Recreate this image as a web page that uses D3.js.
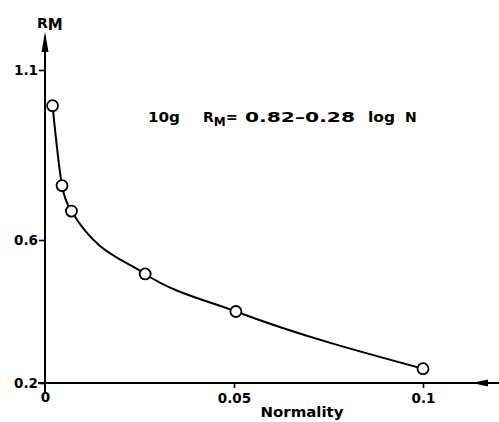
<!DOCTYPE html>
<html>
<head>
<meta charset="utf-8">
<script src="https://cdn.jsdelivr.net/npm/d3@7"></script>
<style>
  body { margin: 0; background: #fff; }
  svg { display: block; font-family: "DejaVu Sans", sans-serif; font-weight: bold; }
</style>
</head>
<body>
<svg></svg>
<script>
const size = {w: 499, h: 422};

// measured points
const normality = [0.002, 0.0045, 0.007, 0.0265, 0.0505, 0.1];
const rm = [0.995, 0.76, 0.685, 0.505, 0.40, 0.24];

const xTicks = [0, 0.05, 0.1];
const xTickLabels = ['0', '0.05', '0.1'];
const yTicks = [0.2, 0.6, 1.1];
const yTickLabels = ['0.2', '0.6', '1.1'];

const svg = d3.select('svg')
    .attr('width', size.w)
    .attr('height', size.h);

// scales (y is slightly uneven in the scan, so piecewise)
const x = d3.scaleLinear().domain([0, 0.1]).range([45, 423]);
const y = d3.scaleLinear().domain([0.2, 0.6, 1.1]).range([383, 240, 70]);

const x0 = x(0), y0 = y(0.2);

// axis lines
svg.append('line')
    .attr('x1', x0).attr('x2', x0)
    .attr('y1', 36).attr('y2', 392)
    .attr('stroke', '#000').attr('stroke-width', 2);
svg.append('line')
    .attr('x1', 38).attr('x2', 499)
    .attr('y1', y0).attr('y2', y0)
    .attr('stroke', '#000').attr('stroke-width', 2.2);

// arrow heads
svg.append('path')
    .attr('d', `M${x0},32 L${x0 - 3.5},52 L${x0 + 3.5},52 Z`)
    .attr('fill', '#000');
svg.append('path')
    .attr('d', `M472,${y0} L488,${y0 - 3.5} L488,${y0 + 3.5} Z`)
    .attr('fill', '#000');

// y ticks
const yAxis = d3.axisLeft(y)
    .tickValues(yTicks)
    .tickFormat((d, i) => yTickLabels[i])
    .tickSize(6)
    .tickPadding(1);
const yG = svg.append('g')
    .attr('transform', `translate(${x0},0)`)
    .call(yAxis);
yG.select('.domain').remove();

// x ticks
const xAxis = d3.axisBottom(x)
    .tickValues(xTicks)
    .tickFormat((d, i) => xTickLabels[i])
    .tickSize(5)
    .tickPadding(5);
const xG = svg.append('g')
    .attr('transform', `translate(0,${y0})`)
    .call(xAxis);
xG.select('.domain').remove();

svg.selectAll('.tick line').attr('stroke', '#000').attr('stroke-width', 1.6);
svg.selectAll('.tick text')
    .attr('fill', '#000')
    .style('font-family', '"DejaVu Sans", sans-serif')
    .style('font-weight', 'bold')
    .style('font-size', '13.5px');
xG.selectAll('.tick').filter(d => d === 0).select('line').remove();
xG.selectAll('.tick').filter(d => d === 0).select('text').attr('y', 9);

// curve
const pts = normality.map((n, i) => [n, rm[i]]);
const line = d3.line()
    .x(d => x(d[0]))
    .y(d => y(d[1]))
    .curve(d3.curveMonotoneX);
svg.append('path')
    .datum(pts)
    .attr('d', line)
    .attr('fill', 'none')
    .attr('stroke', '#000')
    .attr('stroke-width', 2);

svg.selectAll('circle')
    .data(pts)
    .enter()
    .append('circle')
    .attr('cx', d => x(d[0]))
    .attr('cy', d => y(d[1]))
    .attr('r', 5.5)
    .attr('fill', '#fff')
    .attr('stroke', '#000')
    .attr('stroke-width', 1.8);

// axis titles
const rmLabel = svg.append('text').attr('x', 37).attr('y', 28).style('font-size', '14px');
rmLabel.append('tspan').text('R');
rmLabel.append('tspan').attr('dy', 2).style('font-size', '15px').text('M');

svg.append('text')
    .attr('x', 302).attr('y', 417)
    .attr('text-anchor', 'middle')
    .attr('textLength', 83)
    .attr('lengthAdjust', 'spacingAndGlyphs')
    .style('font-size', '14px')
    .text('Normality');

// equation
const eq = svg.append('g').style('font-size', '14px');
eq.append('text').attr('x', 148).attr('y', 122)
    .attr('textLength', 32).attr('lengthAdjust', 'spacingAndGlyphs').text('10g');
const r = eq.append('text').attr('x', 203).attr('y', 122);
r.append('tspan').text('R');
r.append('tspan').attr('dy', 4).style('font-size', '12px').text('M');
eq.append('text').attr('x', 226).attr('y', 122).text('=');
eq.append('text').attr('x', 245).attr('y', 122)
    .attr('textLength', 110).attr('lengthAdjust', 'spacingAndGlyphs').text('0.82–0.28');
eq.append('text').attr('x', 368).attr('y', 122)
    .attr('textLength', 27).attr('lengthAdjust', 'spacingAndGlyphs').text('log');
eq.append('text').attr('x', 405).attr('y', 122).text('N');
</script>
</body>
</html>
